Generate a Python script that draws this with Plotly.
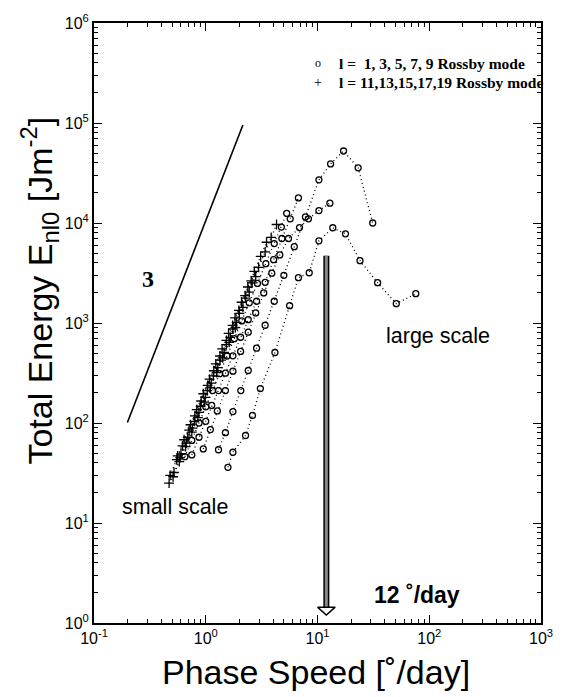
import plotly.graph_objects as go

# ---- data ----
# l = 1,3,5,7,9 Rossby modes (open circles)
c1_x = [1.58, 1.75, 2.27, 2.62, 3.08, 4.16, 5.63, 6.75, 8.43, 10.3, 13.7, 17.8, 24.0, 34.5, 50.7, 75.8]
c1_y = [36, 51, 75, 119, 221, 507, 1490, 2840, 3180, 6640, 8960, 7800, 4200, 2530, 1560, 1965]
c3_x = [1.3, 1.5, 1.75, 2.06, 2.4, 2.85, 3.4, 4.1, 5.0, 6.2, 7.8, 10.3, 13.1, 17.1, 23.1, 31.2]
c3_y = [54, 80, 130, 211, 335, 560, 950, 1650, 3000, 5800, 11500, 27000, 39000, 52500, 35600, 10000]
c5_x = [0.95, 1.1, 1.27, 1.5, 1.75, 2.05, 2.4, 2.8, 3.3, 3.9, 4.6, 5.5, 6.9, 8.3, 10.3, 12.9]
c5_y = [55, 86, 132, 211, 330, 520, 810, 1260, 2000, 3150, 4800, 7000, 9000, 11000, 13300, 15800]
c7_x = [0.75, 0.87, 1.0, 1.13, 1.3, 1.5, 1.75, 2.05, 2.4, 2.85, 3.4, 4.05, 4.8, 5.7, 6.75]
c7_y = [48, 72, 104, 150, 211, 315, 470, 720, 1080, 1650, 2550, 4300, 7000, 11000, 17800]
c9_x = [0.65, 0.75, 0.87, 1.0, 1.15, 1.33, 1.55, 1.8, 2.1, 2.45, 2.9, 3.45, 4.1, 4.75, 5.3]
c9_y = [46, 67, 100, 145, 211, 311, 468, 697, 1050, 1590, 2490, 3920, 6220, 9110, 12500]

# l = 11,13,15,17,19 Rossby modes (plus signs)
p11_x = [0.6, 0.69, 0.79, 0.9, 1.03, 1.17, 1.34, 1.53, 1.75, 2.0, 2.28, 2.6, 2.97, 3.4, 3.85, 4.3]
p11_y = [49, 72, 104, 147, 211, 296, 426, 609, 871, 1247, 1772, 2518, 3605, 5153, 7194, 9660]
p13_x = [0.56, 0.64, 0.73, 0.83, 0.95, 1.08, 1.23, 1.4, 1.6, 1.83, 2.09, 2.38, 2.72, 3.1, 3.5]
p13_y = [47, 68, 96, 136, 196, 274, 390, 551, 788, 1127, 1612, 2290, 3280, 4630, 6420]
p15_x = [0.52, 0.59, 0.67, 0.76, 0.87, 0.99, 1.12, 1.28, 1.46, 1.66, 1.89, 2.15, 2.45, 2.8]
p15_y = [32, 45, 63, 89, 128, 180, 250, 358, 508, 718, 1015, 1435, 2040, 2915]
p17_x = [0.48, 0.55, 0.62, 0.71, 0.8, 0.91, 1.04, 1.18, 1.34, 1.53, 1.74, 1.98, 2.25, 2.55]
p17_y = [30, 43, 59, 85, 118, 166, 238, 333, 468, 670, 946, 1340, 1880, 2640]
p19_x = [0.47, 0.51, 0.58, 0.66, 0.75, 0.85, 0.97, 1.1, 1.25, 1.42, 1.62, 1.84]
p19_y = [25, 29, 41, 58, 81, 113, 162, 226, 319, 447, 640, 898]

# reference slope-3 line
ref_x = [0.199, 2.15]
ref_y = [101, 95500]

# 12 deg/day arrow
arrow_x = [12, 12]
arrow_y = [4700, 1.44]
head_x = [10.0, 14.4, 12, 10.0]
head_y = [1.44, 1.44, 1.2, 1.44]

# axis ticks
x_tickvals = [0.1, 1, 10, 100, 1000]
x_ticktext = ["10<sup>-1</sup>", "10<sup>0</sup>", "10<sup>1</sup>", "10<sup>2</sup>", "10<sup>3</sup>"]
y_tickvals = [1, 10, 100, 1000, 10000, 100000, 1000000]
y_ticktext = ["10<sup>0</sup>", "10<sup>1</sup>", "10<sup>2</sup>", "10<sup>3</sup>",
              "10<sup>4</sup>", "10<sup>5</sup>", "10<sup>6</sup>"]

fig = go.Figure()

circle_series = [(c1_x, c1_y), (c3_x, c3_y), (c5_x, c5_y), (c7_x, c7_y), (c9_x, c9_y)]
plus_series = [(p11_x, p11_y), (p13_x, p13_y), (p15_x, p15_y), (p17_x, p17_y), (p19_x, p19_y)]

dots = "1px,3px"
for xs, ys in plus_series:
    fig.add_trace(go.Scatter(
        x=xs, y=ys, mode="lines+markers",
        line=dict(color="black", width=1.3, dash=dots),
        marker=dict(symbol="cross-thin-open", size=7, line=dict(color="black", width=1.3)),
        showlegend=False))

for xs, ys in circle_series:
    fig.add_trace(go.Scatter(
        x=xs, y=ys, mode="lines+markers",
        line=dict(color="black", width=1.3, dash=dots),
        marker=dict(symbol="circle-open", size=6, color="black", line=dict(color="black", width=1.3)),
        showlegend=False))

fig.add_trace(go.Scatter(x=ref_x, y=ref_y, mode="lines",
                         line=dict(color="black", width=1.6), showlegend=False))

# arrow: outline + gray core + open head
fig.add_trace(go.Scatter(x=arrow_x, y=arrow_y, mode="lines",
                         line=dict(color="black", width=6), showlegend=False))
fig.add_trace(go.Scatter(x=arrow_x, y=arrow_y, mode="lines",
                         line=dict(color="#8a8a8a", width=3), showlegend=False))
fig.add_trace(go.Scatter(x=head_x, y=head_y, mode="lines", fill="toself",
                         fillcolor="white", line=dict(color="black", width=1.5),
                         showlegend=False))

helv = "Liberation Sans, Arial"
times = "Liberation Serif, Times New Roman"


def minor_vals(lo, hi):
    vals = []
    for e in range(lo, hi):
        for m in range(2, 10):
            vals.append(m * 10.0 ** e)
    return vals


axis_common = dict(
    type="log", tickmode="array",
    ticks="inside", ticklen=8, tickwidth=1.2, tickcolor="black",
    showline=True, linewidth=2, linecolor="black", mirror="allticks",
    showgrid=False, zeroline=False,
    tickfont=dict(family=helv, size=16, color="black"),
)

fig.update_xaxes(range=[-1, 3], tickvals=x_tickvals, ticktext=x_ticktext,
                 minor=dict(tickmode="array", tickvals=minor_vals(-1, 3), ticks="inside",
                            ticklen=4, tickwidth=1, tickcolor="black", showgrid=False),
                 **axis_common)
fig.update_yaxes(range=[0, 6], tickvals=y_tickvals, ticktext=y_ticktext,
                 minor=dict(tickmode="array", tickvals=minor_vals(0, 6), ticks="inside",
                            ticklen=4, tickwidth=1, tickcolor="black", showgrid=False),
                 **axis_common)

annotations = [
    dict(x=0.496, y=-0.0815, text="Phase Speed [˚/day]", font=dict(family=helv, size=34, color="black")),
    dict(x=-0.123, y=0.554, text="Total Energy E<sub>nl0</sub> [Jm<sup>-2</sup>]", textangle=-90,
         font=dict(family=helv, size=34, color="black")),
    dict(x=0.5, y=0.933, text="o", font=dict(family=times, size=12, color="black")),
    dict(x=0.544, y=0.933, text="<b>l =  1, 3, 5, 7, 9 Rossby mode</b>", xanchor="left",
         font=dict(family=times, size=15.5, color="black")),
    dict(x=0.5, y=0.900, text="+", font=dict(family=times, size=14, color="black")),
    dict(x=0.544, y=0.900, text="<b>l = 11,13,15,17,19 Rossby mode</b>", xanchor="left",
         font=dict(family=times, size=15.5, color="black")),
    dict(x=0.121, y=0.574, text="<b>3</b>", font=dict(family=times, size=24, color="black")),
    dict(x=0.182, y=0.193, text="small scale", font=dict(family=helv, size=21.5, color="black")),
    dict(x=0.770, y=0.479, text="large scale", font=dict(family=helv, size=21.5, color="black")),
    dict(x=0.7215, y=0.0466, text="<b>12 ˚/day</b>", font=dict(family=helv, size=23, color="black")),
]
for a in annotations:
    a.setdefault("xanchor", "center")
    fig.add_annotation(xref="paper", yref="paper", showarrow=False, yanchor="middle", **a)

fig.update_layout(
    width=565, height=697,
    margin=dict(l=94, r=15, t=22, b=74),
    plot_bgcolor="white", paper_bgcolor="white",
    showlegend=False,
)

fig.write_html("out.html")
